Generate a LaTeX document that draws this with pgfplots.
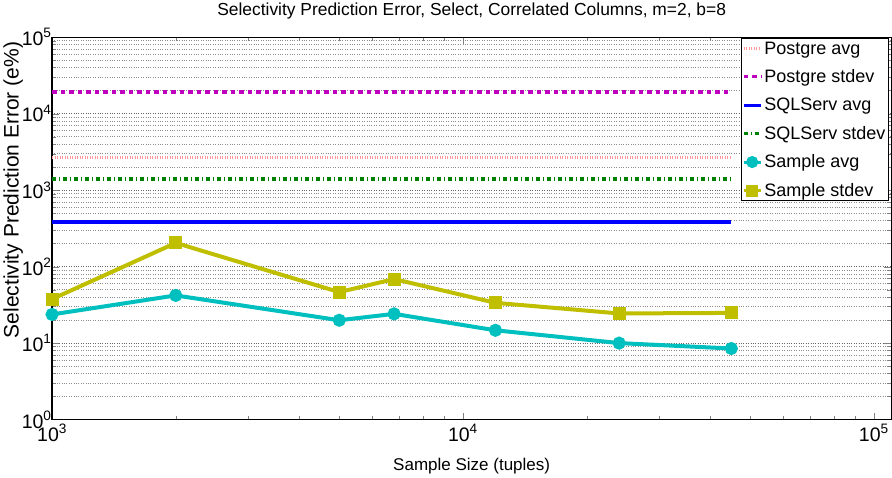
\documentclass[border=0pt]{standalone}
\usepackage{fontspec}
\setmainfont{Liberation Sans}
\usepackage{pgfplots}
\pgfplotsset{compat=1.18}
\definecolor{pgavg}{rgb}{1,0.6,0.6}
\definecolor{pgstd}{rgb}{0.75,0,0.75}
\definecolor{sqavg}{rgb}{0,0,1}
\definecolor{sqstd}{rgb}{0,0.5,0}
\definecolor{smavg}{rgb}{0,0.75,0.75}
\definecolor{smstd}{rgb}{0.75,0.75,0}
\begin{document}
\begin{tikzpicture}
\begin{axis}[
  scale only axis,
  width=836bp, height=381bp,
  xmode=log, ymode=log,
  xmin=1000, xmax=110300,
  ymin=1, ymax=100000,
  xtick={1000,10000,100000},
  xticklabels={10\textsuperscript{3},10\textsuperscript{4},10\textsuperscript{5}},
  ytick={1,10,100,1000,10000,100000},
  yticklabels={10\textsuperscript{0},10\textsuperscript{1},10\textsuperscript{2},10\textsuperscript{3},10\textsuperscript{4},10\textsuperscript{5}},
  tick label style={font=\fontsize{19.5}{21}\selectfont},
  xticklabel style={yshift=-1bp},
  yticklabel style={xshift=3bp},
  tick align=inside,
  major tick length=7bp, minor tick length=4bp,
  ymajorgrids, yminorgrids,
  major grid style={black!60, dotted, line width=0.7pt},
  minor grid style={black!45, dotted, line width=0.7pt},
  axis line style={line width=1.2pt},
  title={Selectivity Prediction Error, Select, Correlated Columns, m=2, b=8},
  title style={font=\fontsize{17.4}{19}\selectfont, yshift=8bp},
  xlabel={Sample Size (tuples)},
  ylabel={Selectivity Prediction Error (e\%)},
  xlabel style={font=\fontsize{17}{19}\selectfont, yshift=-10bp},
  ylabel style={font=\fontsize{21}{23}\selectfont, yshift=-8bp, at={(ticklabel cs:0.6)}},
  legend style={at={(rel axis cs:0.997,0.997)}, anchor=north east, font=\fontsize{18}{20}\selectfont, draw=black, line width=0.9pt, inner sep=1pt, row sep=10pt, legend cell align=left},
  legend image post style={line width=3pt},
  legend image code/.code={\draw[mark repeat=2,mark phase=2,#1] plot coordinates {(0cm,0cm) (0.3cm,0cm) (0.6cm,0cm)};},
]
\addplot[pgavg, line width=3pt, dash pattern=on 1pt off 1.5pt] coordinates {(1000,2660) (45000,2660)};
\addlegendentry{Postgre avg}
\addplot[pgstd, line width=4pt, dash pattern=on 4.5pt off 4pt] coordinates {(1000,19000) (45000,19000)};
\addlegendentry{Postgre stdev}
\addplot[sqavg, line width=4pt] coordinates {(1000,385) (45000,385)};
\addlegendentry{SQLServ avg}
\addplot[sqstd, line width=4pt, dash pattern=on 4pt off 3pt on 1pt off 3pt] coordinates {(1000,1410) (45000,1410)};
\addlegendentry{SQLServ stdev}
\addplot[smavg, line width=4pt, mark=*, mark size=4.5pt] coordinates {
(1000,23.7) (2000,42) (5000,19.9) (6800,24.1) (12000,14.7) (24000,10.0) (45000,8.5)};
\addlegendentry{Sample avg}
\addplot[smstd, line width=4pt, mark=square*, mark size=4.5pt] coordinates {
(1000,37.6) (2000,204) (5000,46.4) (6800,68.7) (12000,33.6) (24000,24.4) (45000,24.8)};
\addlegendentry{Sample stdev}
\end{axis}
\end{tikzpicture}
\end{document}
